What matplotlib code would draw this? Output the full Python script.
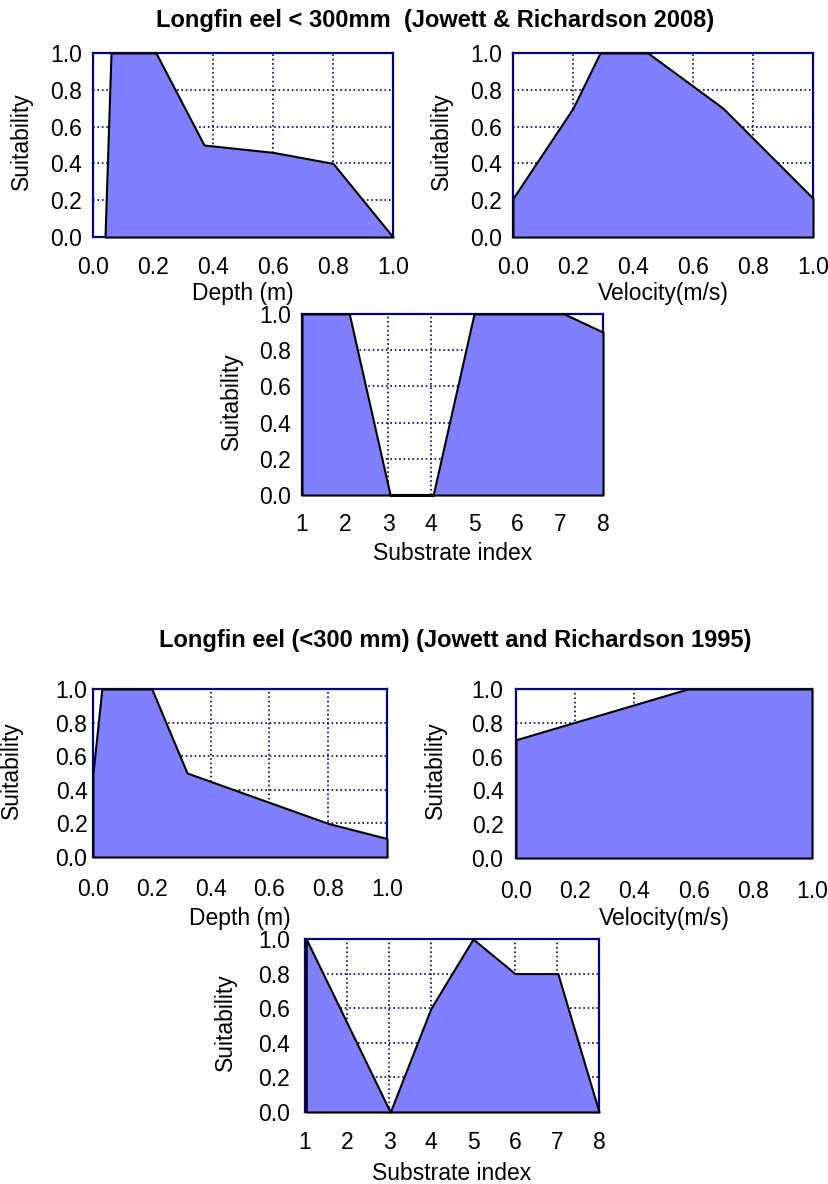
import matplotlib
matplotlib.use('Agg')
import matplotlib.pyplot as plt
from matplotlib.ticker import FormatStrFormatter

plt.rcParams['font.family'] = ['Liberation Sans', 'DejaVu Sans']

# Jowett & Richardson 2008 curves
depth08 = [0.04, 0.06, 0.21, 0.37, 0.60, 0.80, 1.0]
depth08_suit = [0.0, 1.0, 1.0, 0.50, 0.46, 0.40, 0.0]
vel08 = [0.0, 0.2, 0.29, 0.45, 0.70, 1.0]
vel08_suit = [0.21, 0.70, 1.0, 1.0, 0.70, 0.21]
sub08 = [1.0, 2.1, 3.05, 4.05, 5.0, 7.1, 8.0]
sub08_suit = [1.0, 1.0, 0.0, 0.0, 1.0, 1.0, 0.9]

# Jowett and Richardson 1995 curves
depth95 = [0.0, 0.03, 0.20, 0.32, 0.80, 1.0]
depth95_suit = [0.5, 1.0, 1.0, 0.5, 0.2, 0.11]
vel95 = [0.0, 0.58, 1.0]
vel95_suit = [0.70, 1.0, 1.0]
sub95 = [1.03, 3.03, 4.0, 5.0, 6.0, 7.02, 8.0]
sub95_suit = [1.0, 0.0, 0.6, 1.0, 0.8, 0.8, 0.0]

W, H = 829, 1184
fig = plt.figure(figsize=(W / 100, H / 100), dpi=100)

FILL = '#8080ff'
NAVY = '#000080'
FS = 16.5


def make_axes(x0, y0, x1, y1):
    # pixel box (top-left origin) -> figure fraction
    return fig.add_axes([x0 / W, 1 - y1 / H, (x1 - x0) / W, (y1 - y0) / H])


def panel(box, x, y, xlabel, substrate, xpad, ypad, ylab_x, xlab_y):
    ax = make_axes(*box)
    ax.fill_between(x, y, 0, facecolor=FILL, edgecolor='black', lw=1.5,
                    zorder=3, clip_on=False)
    ax.set_ylim(0, 1)
    ax.set_yticks([0, 0.2, 0.4, 0.6, 0.8, 1.0])
    ax.yaxis.set_major_formatter(FormatStrFormatter('%.1f'))
    if substrate:
        ax.set_xlim(1, 8)
        ax.set_xticks(range(1, 9))
    else:
        ax.set_xlim(0, 1)
        ax.set_xticks([0, 0.2, 0.4, 0.6, 0.8, 1.0])
        ax.xaxis.set_major_formatter(FormatStrFormatter('%.1f'))
    ax.set_axisbelow(True)
    ax.grid(True, color=NAVY, ls=':', lw=1.2)
    for s in ax.spines.values():
        s.set_color(NAVY)
        s.set_linewidth(1.6)
    ax.tick_params(axis='x', length=0, pad=xpad, labelsize=FS)
    ax.tick_params(axis='y', length=0, pad=ypad, labelsize=FS)
    ax.set_xlabel(xlabel, fontsize=FS)
    ax.set_ylabel('Suitability', fontsize=FS)
    ax.xaxis.set_label_coords(0.5, xlab_y)
    ax.yaxis.set_label_coords(ylab_x, 0.52)
    return ax


panel((93, 53, 393, 237), depth08, depth08_suit, 'Depth (m)', False,
      14, 8, -0.20, -0.243)
panel((513, 53, 813, 237), vel08, vel08_suit, 'Velocity(m/s)', False,
      14, 8, -0.20, -0.243)
panel((302, 314, 603, 495), sub08, sub08_suit, 'Substrate index', True,
      13, 8, -0.196, -0.26)

panel((93, 689, 387, 857), depth95, depth95_suit, 'Depth (m)', False,
      15, 4, -0.238, -0.30)
panel((516, 689, 812, 858), vel95, vel95_suit, 'Velocity(m/s)', False,
      16, 9, -0.233, -0.29)
panel((305, 939, 599, 1112), sub95, sub95_suit, 'Substrate index', True,
      14, 11, -0.231, -0.29)

fig.text(435 / W, 1 - 21 / H, 'Longfin eel < 300mm  (Jowett & Richardson 2008)',
         ha='center', va='center', fontsize=17, fontweight='bold')
fig.text(455 / W, 1 - 641 / H, 'Longfin eel (<300 mm) (Jowett and Richardson 1995)',
         ha='center', va='center', fontsize=17, fontweight='bold')

fig.savefig('out.png', dpi=100)
